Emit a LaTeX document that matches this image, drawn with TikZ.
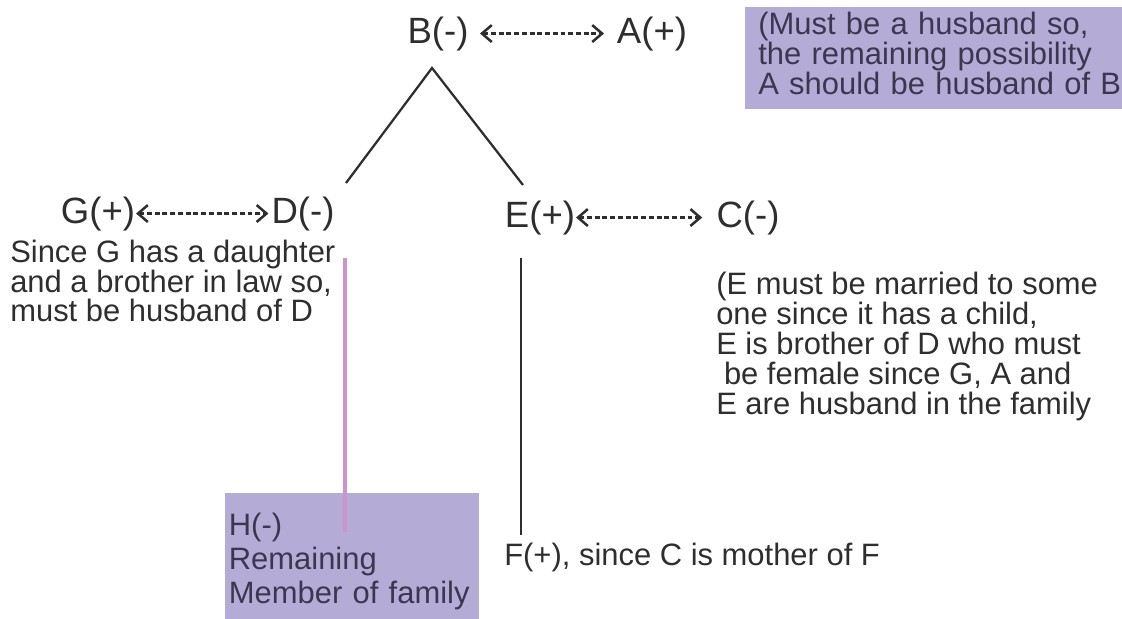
\documentclass[tikz,border=0pt]{standalone}
\usepackage{fontspec}
\setmainfont{Liberation Sans}
\usetikzlibrary{arrows.meta, positioning}
\definecolor{mytext}{RGB}{46,46,46}
\definecolor{myboxtext}{RGB}{60,54,78}
\definecolor{mylilac}{RGB}{180,172,215}
\definecolor{mypink}{RGB}{205,148,202}
\tikzset{
  person/.style={inner sep=0pt, text=mytext, font=\fontsize{26}{30}\selectfont},
  note/.style={inner sep=0pt, align=left, text=mytext,
    font=\fontsize{22}{21}\selectfont},
  lilacbox/.style={rectangle, fill=mylilac, align=left, text=myboxtext,
    font=\fontsize{22}{21.3}\selectfont},
  pairarrow/.style={{Straight Barb[length=7pt,width=12pt,line width=1.8pt]}-{Straight Barb[length=7pt,width=12pt,line width=1.8pt]},
    line width=1.7pt, dash pattern=on 3.5pt off 2pt, color=mytext},
  treeline/.style={line width=1.6pt, color=mytext},
  pinkline/.style={line width=2.2pt, color=mypink}
}
\begin{document}
\lineskiplimit=-10pt
\begin{tikzpicture}[x=0.025cm, y=-0.025cm]
  \useasboundingbox (0,0) rectangle (1122,618);

  % couples
  \node[person, anchor=base] (b) at (438,43) {B(-)};
  \node[person, anchor=base] (a) at (652,43) {A(+)};
  \node[person, anchor=base] (g) at (98,223) {G(+)};
  \node[person, anchor=base] (d) at (303,223) {D(-)};
  \node[person, anchor=base] (e) at (540,227) {E(+)};
  \node[person, anchor=base] (c) at (748,227) {C(-)};

  \draw[pairarrow, shorten <=8pt, shorten >=9pt] (b.east) -- (a.west);
  \draw[pairarrow, shorten <=0.5pt, shorten >=2pt] (g.east) -- (d.west);
  \draw[pairarrow, shorten <=0.5pt, shorten >=10pt] (e.east) -- (c.west);

  % children of B and A
  \coordinate (apex) at (432,68);
  \coordinate (dtop) at (346,183);
  \coordinate (etop) at (523,185);
  \draw[treeline] (dtop) -- (apex) -- (etop);

  % notes
  \node[lilacbox, anchor=north west, text width=9.2cm, inner xsep=0.325cm,
    minimum height=2.5cm] (notea) at (745,7)
    {(Must be a husband so,\\the remaining possibility\\A should be husband of B\rule[-0.25cm]{0pt}{0.25cm}};
  \node[note, anchor=north west] (noteg) at (10,240)
    {Since G has a daughter\\and a brother in law so,\\must be husband of D};
  \node[note, anchor=north west, font=\fontsize{22}{21.3}\selectfont] (notee) at (716,272)
    {(E must be married to some\\one since it has a child,\\E is brother of D who must\\\hspace{0.25em}be female since G, A and\\E are husband in the family};
  \node[lilacbox, anchor=north west, text width=6.15cm, inner xsep=0.09cm,
    inner ysep=0.5cm, font=\fontsize{22}{24}\selectfont] (hbox) at (225,493)
    {H(-)\\Remaining\\Member of family};
  \node[note, anchor=base west] (notef) at (504,565) {F(+), since C is mother of F};

  % links down to H and F
  \coordinate (htop) at (345,258);
  \coordinate (hend) at (345,532);
  \coordinate (ftop) at (521,258);
  \coordinate (fend) at (521,535);
  \draw[pinkline] (htop) -- (hend);
  \draw[treeline, line width=1.9pt] (ftop) -- (fend);
\end{tikzpicture}
\end{document}
